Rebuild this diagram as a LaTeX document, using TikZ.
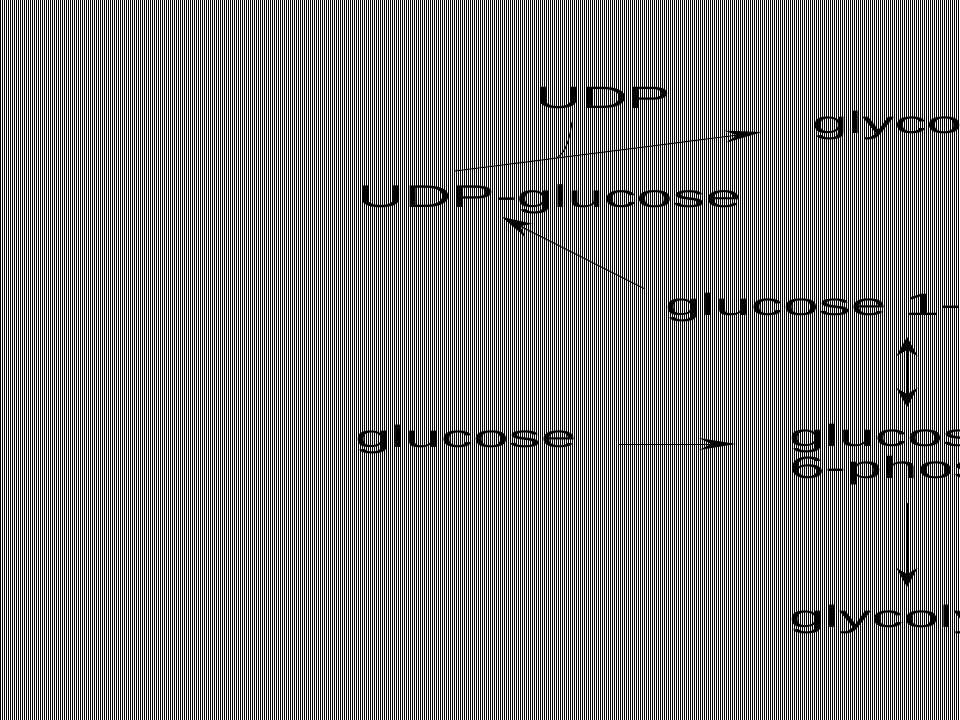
\documentclass[tikz,border=0pt]{standalone}
\usepackage{fontspec}
\newfontfamily\widesans[FakeStretch=2.08]{Liberation Sans}
\usetikzlibrary{arrows.meta, calc}
\tikzstyle{metab} = [inner sep=0pt,
anchor=base west,
font=\widesans\fontsize{31}{32}\selectfont,
text=black]
\tikzstyle{arrow} = [line width=1bp,
draw=black]
\tikzstyle{longhead} = [-{Stealth[length=37bp, width=12bp]}]
\tikzstyle{midhead} = [-{Stealth[length=30bp, width=15bp]}]
\tikzstyle{vhead} = [-{Stealth[length=19bp, width=21bp]}]
\tikzstyle{vbothhead} = [{Stealth[length=19bp, width=21bp]}-{Stealth[length=19bp, width=21bp]}]

\begin{document}
\begin{tikzpicture}[x=1bp, y=-1bp]
			
			\useasboundingbox (0,0) rectangle (960,720);
			\clip (0,0) rectangle (960,720);
			\fill [white] (0,0) rectangle (960,720);
			\foreach \i in {0,...,479}
			\fill [black] (2*\i,0) rectangle ++(1,720);
			
			\node (udp) [metab] at (535,109) {UDP};
			
			\node (glycogen) [metab] at (812,134) {glycogen};
			
			\node (udpg) [metab, font=\widesans\fontsize{31.5}{32}\selectfont] at (357,207) {UDP-glucose};
			
			\node (g1p) [metab] at (665,315) {glucose 1-phosphate};
			
			\node (glc) [metab] at (355,447) {glucose};
			
			\node (g6p) [metab, align=left] at (789,478) {glucose\\6-phosphate};
			
			\node (glys) [metab] at (789,627) {glycolysis};
			
			\draw [arrow, longhead] ($(udpg.base west)+(98,-36)$) -- coordinate[pos=0.33] (join) ($(glycogen.base west)+(-50,-2)$);
			\draw [arrow] (join) .. controls +(11,-6) and +(-2,13) .. ($(udp.base west)+(37,13)$);
			\draw [arrow, midhead] ($(g1p.base west)+(-20,-26)$) -- ($(udpg.base west)+(145,10)$);
			\draw [arrow, longhead] ($(glc.base west)+(263,-3)$) -- ($(g6p.base west)+(-53,-34)$);
			\draw [arrow, vbothhead] ($(g1p.base west)+(242,22)$) -- ($(g6p.base west)+(118,-71)$);
			\draw [arrow, vhead] ($(g6p.base west)+(118,25)$) -- ($(glys.base west)+(118,-40)$);
			
			
			\end{tikzpicture}
\end{document}
